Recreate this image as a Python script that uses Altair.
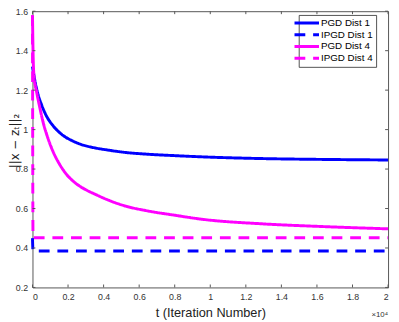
import altair as alt
import pandas as pd

# ---- data ----
series_names = ["PGD Dist 1", "IPGD Dist 1", "PGD Dist 4", "IPGD Dist 4"]
series_colors = ["#0000FF", "#0000FF", "#FF00FF", "#FF00FF"]
series_dash = [[1, 0], [11, 8], [1, 0], [11, 8]]

pgd1_iter = [0, 140, 320, 505, 780, 1145, 1695, 2245, 2795, 3530, 4260, 5250, 6350, 8000, 9500, 13000, 16200, 20000]
pgd1_val = [1.32, 1.245, 1.176, 1.127, 1.07, 1.021, 0.972, 0.943, 0.923, 0.907, 0.896, 0.884, 0.876, 0.868, 0.862, 0.853, 0.849, 0.846]

ipgd1_iter = [0, 30, 20000]
ipgd1_val = [0.45, 0.385, 0.385]

pgd4_iter = [0, 30, 83, 230, 413, 595, 870, 1145, 1512, 1880, 2430, 2980, 3530, 4200, 5250, 6350, 8000, 9500, 13000, 16200, 20000]
pgd4_val = [1.58, 1.40, 1.273, 1.192, 1.111, 1.038, 0.956, 0.891, 0.826, 0.777, 0.728, 0.696, 0.672, 0.645, 0.612, 0.59, 0.566, 0.546, 0.522, 0.509, 0.497]

ipgd4_iter = [0, 30, 20000]
ipgd4_val = [1.58, 0.452, 0.452]

x_ticks = [0, 2000, 4000, 6000, 8000, 10000, 12000, 14000, 16000, 18000, 20000]
y_ticks = [0.2, 0.4, 0.6, 0.8, 1.0, 1.2, 1.4, 1.6]

x_title = "t (Iteration Number)"
y_title = "||x − zₜ||₂"
exponent_label = ["×10⁴"]

# ---- build table ----
rows = []
for name, its, vals in [
    (series_names[0], pgd1_iter, pgd1_val),
    (series_names[1], ipgd1_iter, ipgd1_val),
    (series_names[2], pgd4_iter, pgd4_val),
    (series_names[3], ipgd4_iter, ipgd4_val),
]:
    for t, v in zip(its, vals):
        rows.append({"series": name, "t": t, "v": v})
df = pd.DataFrame(rows)

W, H = 363, 282
FRAME = "#555555"
TXT = "#333333"

xs = alt.Scale(domain=[0, 20000], nice=False, zero=False)
ys = alt.Scale(domain=[0.2, 1.6], nice=False, zero=False)

x_axis = alt.Axis(
    values=x_ticks, labelExpr="datum.value/10000 + ''", tickSize=0, domain=False, grid=False,
    labelFontSize=9, labelPadding=5, labelColor=TXT, labelFont="Liberation Sans",
    title=x_title, titleFontSize=13, titleFontWeight="normal", titleColor="#222222",
    titleFont="Liberation Sans", titleBaseline="alphabetic", titleY=30)
y_axis = alt.Axis(
    values=y_ticks, format="~g", tickSize=0, domain=False, grid=False,
    labelFontSize=9, labelPadding=5, labelColor=TXT, labelFont="Liberation Sans",
    title=y_title, titleFontSize=12, titleFontWeight="normal", titleColor="#222222",
    titleFont="DejaVu Sans", titleAngle=270, titleAlign="center", titleBaseline="middle",
    titleX=-18, titleY=132)

leg = dict(title=None, orient="none", legendX=272, legendY=4)

lines = alt.Chart(df).mark_line(strokeWidth=3, interpolate="monotone", strokeCap="butt").encode(
    x=alt.X("t:Q", scale=xs, axis=x_axis),
    y=alt.Y("v:Q", scale=ys, axis=y_axis),
    color=alt.Color("series:N", scale=alt.Scale(domain=series_names, range=series_colors),
                    legend=alt.Legend(**leg)),
    strokeDash=alt.StrokeDash("series:N", scale=alt.Scale(domain=series_names, range=series_dash),
                              legend=alt.Legend(**leg)),
)

xt = pd.DataFrame({"t": x_ticks})
yt = pd.DataFrame({"v": y_ticks})

tick_bottom = alt.Chart(xt).mark_rule(color=FRAME, strokeWidth=1).encode(
    x=alt.X("t:Q", scale=xs, axis=x_axis), y=alt.value(H), y2=alt.value(H - 3))
tick_top = alt.Chart(xt).mark_rule(color=FRAME, strokeWidth=1).encode(
    x=alt.X("t:Q", scale=xs, axis=x_axis), y=alt.value(0), y2=alt.value(3))
tick_left = alt.Chart(yt).mark_rule(color=FRAME, strokeWidth=1).encode(
    y=alt.Y("v:Q", scale=ys, axis=y_axis), x=alt.value(0), x2=alt.value(3))
tick_right = alt.Chart(yt).mark_rule(color=FRAME, strokeWidth=1).encode(
    y=alt.Y("v:Q", scale=ys, axis=y_axis), x=alt.value(W), x2=alt.value(W - 3))

expo = alt.Chart(pd.DataFrame({"s": exponent_label})).mark_text(
    align="right", baseline="alphabetic", fontSize=8, color=TXT, font="Liberation Sans"
).encode(text="s:N", x=alt.value(W), y=alt.value(H + 30))

chart = alt.layer(lines, tick_bottom, tick_top, tick_left, tick_right, expo).properties(
    width=W, height=H,
    background="white",
    autosize=alt.AutoSizeParams(type="none"),
    padding={"left": 25, "top": 0, "right": 3, "bottom": 32},
).configure_view(
    stroke=FRAME, strokeWidth=1
).configure_legend(
    symbolType="M-3.5714,0H3.5714", symbolSize=49, symbolStrokeWidth=3,
    labelFontSize=10, labelFont="Liberation Sans", labelColor="#000000",
    labelOffset=9.5, rowPadding=0, padding=3,
    strokeColor="#262626", fillColor="white", strokeWidth=0.8,
)

chart.save("out.html", embed_options={"renderer": "svg", "actions": False})
